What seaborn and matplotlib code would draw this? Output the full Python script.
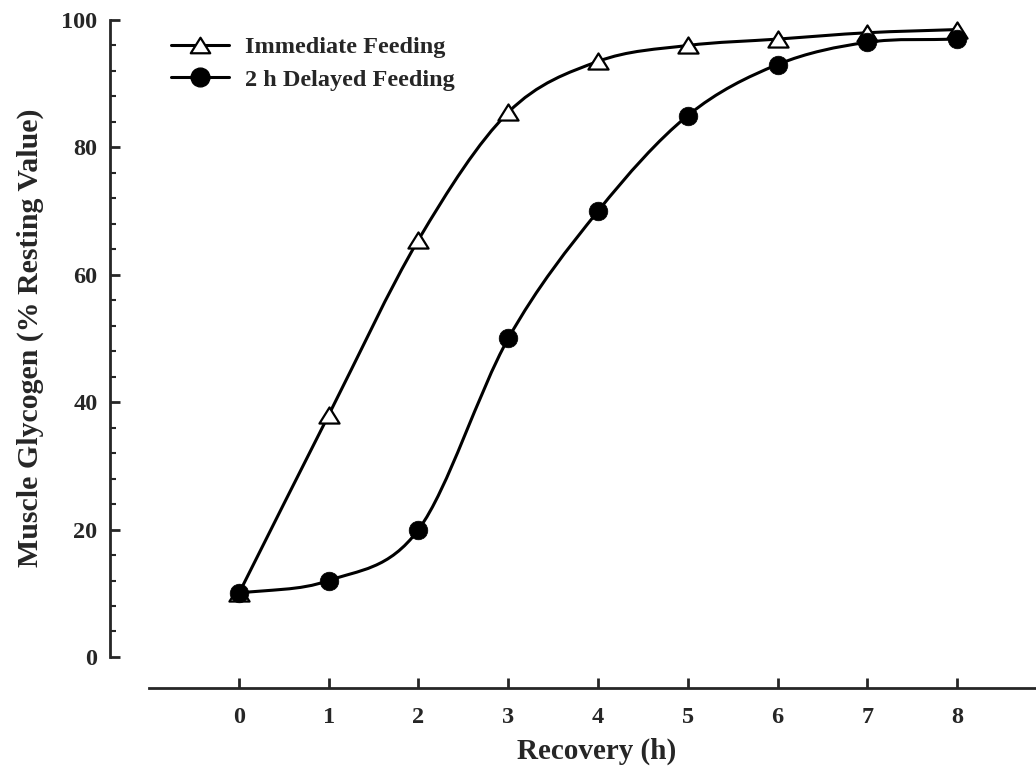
import numpy as np
import pandas as pd
import seaborn as sns
import matplotlib.pyplot as plt
from matplotlib.path import Path
from matplotlib.patches import PathPatch
from matplotlib.lines import Line2D
from matplotlib.ticker import FixedLocator

# data
hours = [0, 1, 2, 3, 4, 5, 6, 7, 8]
immediate = [10, 38, 65.5, 85.5, 93.5, 96, 97, 98, 98.5]
delayed = [10, 12, 20, 50, 70, 85, 93, 96.5, 97]
x_ticks = [0, 1, 2, 3, 4, 5, 6, 7, 8]
y_ticks = [0, 20, 40, 60, 80, 100]
series_names = ['Immediate Feeding', '2 h Delayed Feeding']

sns.set_style('ticks')
plt.rcParams['font.family'] = ['Liberation Serif', 'DejaVu Serif']
plt.rcParams['font.weight'] = 'bold'

df_imm = pd.DataFrame({'hours': hours, 'glycogen': immediate})
df_del = pd.DataFrame({'hours': hours, 'glycogen': delayed})

# flattened triangle marker
tri = Path([(0, 0.8), (-1, -0.8), (1, -0.8), (0, 0.8)],
           [Path.MOVETO, Path.LINETO, Path.LINETO, Path.CLOSEPOLY])


def smooth_curve(x, y):
    # catmull-rom through the points, drawn as cubic beziers
    x = np.asarray(x, float)
    y = np.asarray(y, float)
    mx = np.gradient(x)
    my = np.gradient(y)
    verts = [(x[0], y[0])]
    codes = [Path.MOVETO]
    for i in range(len(x) - 1):
        verts += [(x[i] + mx[i] / 3, y[i] + my[i] / 3),
                  (x[i + 1] - mx[i + 1] / 3, y[i + 1] - my[i + 1] / 3),
                  (x[i + 1], y[i + 1])]
        codes += [Path.CURVE4] * 3
    return PathPatch(Path(verts, codes), fill=False, lw=2.2, ec='black',
                     capstyle='round', joinstyle='round', zorder=2)


fig = plt.figure(figsize=(10.36, 7.67), dpi=100)
ax = fig.add_axes([110 / 1036, 79 / 767, 926 / 1036, 668 / 767])

ax.add_patch(smooth_curve(hours, immediate))
ax.add_patch(smooth_curve(hours, delayed))

sns.scatterplot(data=df_imm, x='hours', y='glycogen', marker=tri, s=210,
                color='white', edgecolor='black', linewidth=1.6, zorder=3, ax=ax)
sns.scatterplot(data=df_del, x='hours', y='glycogen', marker='o', s=180,
                color='black', edgecolor='black', linewidth=0.5, zorder=4, ax=ax)

ax.set_xlim(-1.437, 8.88)
ax.set_ylim(-4.87, 100)

sns.despine(ax=ax)
ax.spines['left'].set_bounds(0, 100)
ax.spines['bottom'].set_bounds(-1, 8.88)
ax.spines['left'].set_linewidth(2)
ax.spines['bottom'].set_linewidth(2)

ax.set_xticks(x_ticks)
ax.set_yticks(y_ticks)
ax.yaxis.set_minor_locator(FixedLocator(np.arange(0, 101, 4)))
ax.tick_params(axis='y', which='major', direction='in', length=7, width=2,
               pad=9, labelsize=17.5)
ax.tick_params(axis='y', which='minor', direction='in', length=4.5, width=1.5)
ax.tick_params(axis='x', which='major', direction='in', length=7.5, width=2,
               pad=14, labelsize=17.5)

ax.set_xlabel('Recovery (h)', fontsize=21, fontweight='bold')
ax.set_ylabel('Muscle Glycogen (% Resting Value)', fontsize=21.5, fontweight='bold')
ax.xaxis.set_label_coords(0.526, -0.075)
ax.yaxis.set_label_coords(-0.071, 0.524)

handles = [
    Line2D([], [], color='black', lw=2.2, marker=tri, ms=14,
           mfc='white', mec='black', mew=1.6),
    Line2D([], [], color='black', lw=2.2, marker='o', ms=13.5,
           mfc='black', mec='black'),
]
ax.legend(handles, series_names, loc='upper left',
          bbox_to_anchor=(171 / 1036, 1 - 36 / 767), bbox_transform=fig.transFigure,
          frameon=False, fontsize=17.5, handlelength=2.4, handletextpad=0.65,
          borderpad=0, borderaxespad=0, labelspacing=0.45)

fig.savefig('out.png', dpi=100)
